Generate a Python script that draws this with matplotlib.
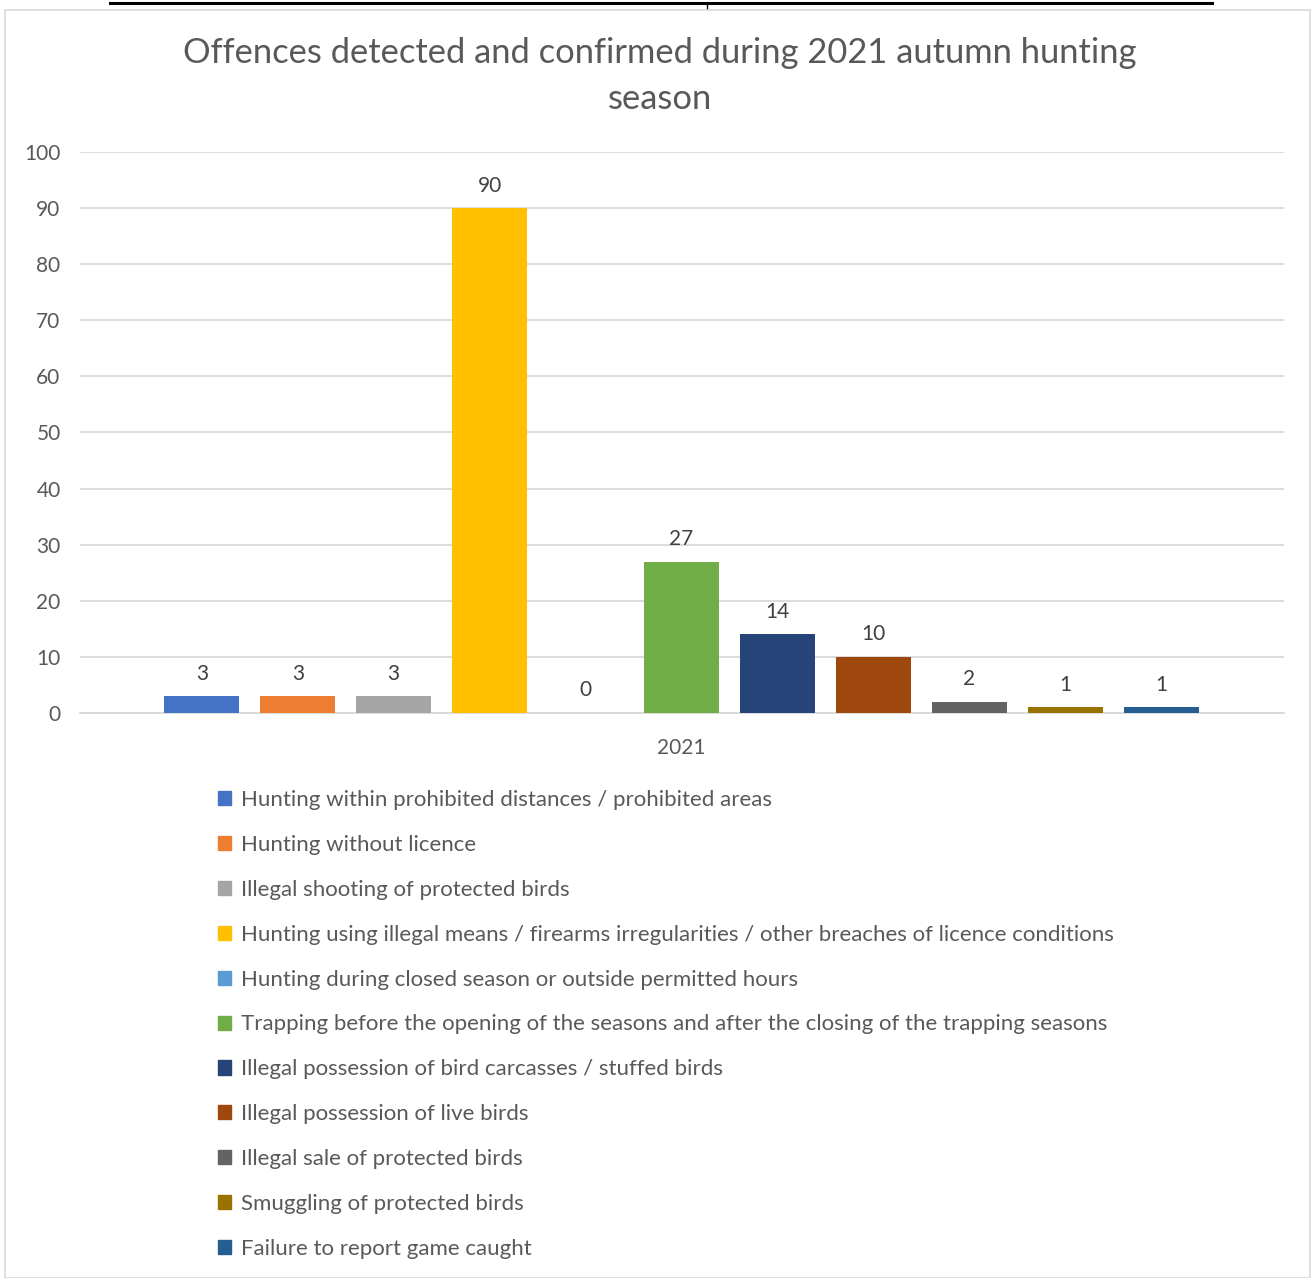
import matplotlib.pyplot as plt
import matplotlib.patches as mpatches
from matplotlib.lines import Line2D
import numpy as np

plt.rcParams['font.family'] = ['Lato', 'DejaVu Sans']

categories = ["Hunting within prohibited distances / prohibited areas",
              "Hunting without licence",
              "Illegal shooting of protected birds",
              "Hunting using illegal means / firearms irregularities / other breaches of licence conditions",
              "Hunting during closed season or outside permitted hours",
              "Trapping before the opening of the seasons and after the closing of the trapping seasons",
              "Illegal possession of bird carcasses / stuffed birds",
              "Illegal possession of live birds",
              "Illegal sale of protected birds",
              "Smuggling of protected birds",
              "Failure to report game caught"]
values = [3, 3, 3, 90, 0, 27, 14, 10, 2, 1, 1]
colors = ["#4472C4", "#ED7D31", "#A5A5A5", "#FFC000", "#5B9BD5", "#70AD47",
          "#264478", "#9E480E", "#636363", "#997300", "#255E91"]
year = "2021"

W, H = 1316, 1278
fig = plt.figure(figsize=(W / 100, H / 100), dpi=100)

# chart frame + black line at top
fig.add_artist(mpatches.Rectangle((5 / W, 0), 1305 / W, 1 - 10 / H, transform=fig.transFigure,
                                  fill=False, edgecolor="#D9D9D9", lw=1.2))
fig.add_artist(Line2D([110 / W, 1212 / W], [1 - 3 / H, 1 - 3 / H], transform=fig.transFigure,
                      color="black", lw=2.2))
fig.add_artist(Line2D([707 / W, 707 / W], [1 - 3 / H, 1 - 8 / H], transform=fig.transFigure,
                      color="black", lw=1))

ax = fig.add_axes([80 / W, 1 - 713 / H, 1204 / W, 561 / H])

n = len(values)
x = np.arange(n) - (n - 1) / 2
bars = ax.bar(x, values, width=0.78, color=colors, zorder=3)
ax.bar_label(bars, padding=9, fontsize=15, color="#404040")

ax.set_ylim(0, 100)
ax.set_xlim(-6.27, 6.28)
ax.set_yticks(range(0, 101, 10))
ax.set_xticks([0])
ax.set_xticklabels([year])
ax.yaxis.grid(True, color="#D9D9D9", lw=1.3, zorder=0)
for s in ["top", "right", "left"]:
    ax.spines[s].set_visible(False)
ax.spines["bottom"].set_color("#D9D9D9")
ax.spines["bottom"].set_linewidth(1.3)
ax.tick_params(axis="y", length=0, pad=14, labelsize=15, labelcolor="#595959")
ax.tick_params(axis="x", length=0, pad=18, labelsize=15, labelcolor="#595959")

fig.text(660 / W, 1 - 76 / H, "Offences detected and confirmed during 2021 autumn hunting\nseason",
         ha="center", va="center", fontsize=24.8, color="#595959", linespacing=1.55)

handles = [mpatches.Rectangle((0, 0), 1, 1, color=c) for c in colors]
fig.legend(handles, categories, loc="upper left", bbox_to_anchor=(218 / W, 1 - 790 / H),
           frameon=False, fontsize=16, labelcolor="#595959", handlelength=0.6, handleheight=0.6,
           handletextpad=0.45, labelspacing=1.12, borderpad=0, borderaxespad=0)

fig.savefig("out.png", dpi=100)
